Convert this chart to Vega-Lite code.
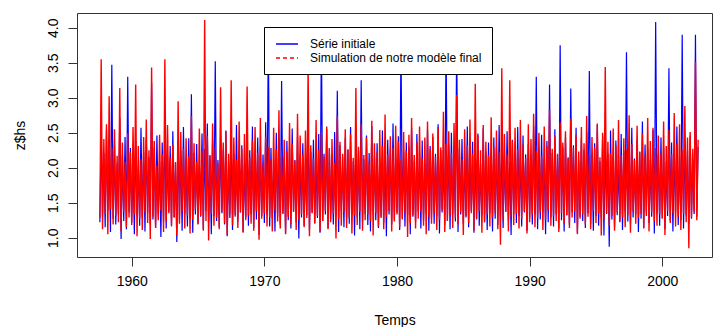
{
"$schema":"https://vega.github.io/schema/vega-lite/v6.json",
"width":635,"height":244,
"autosize":{"type":"none"},
"padding":{"left":77,"top":13,"right":1,"bottom":70},
"config":{"font":"Liberation Sans","view":{"stroke":"#333333","strokeWidth":1},
"legend":{"orient":"none","legendX":187,"legendY":14,"title":null,"padding":10,"strokeColor":"#000000","fillColor":"#ffffff","labelFontSize":12,"labelColor":"#000000","labelLimit":400,"labelOffset":22,"symbolSize":144,"symbolType":"M-0.833,0H2.833","symbolStrokeWidth":1,"rowPadding":1}},
"data":{"values":[
{"t":1957.6,"a":1.22,"b":1.28},{"t":1957.7,"a":2.48,"b":3.55},{"t":1957.8,"a":1.30,"b":1.12},{"t":1957.9,"a":2.21,"b":2.41},
{"t":1958.0,"a":1.15,"b":1.34},{"t":1958.1,"a":2.55,"b":2.62},{"t":1958.2,"a":1.38,"b":1.05},{"t":1958.3,"a":2.12,"b":3.02},{"t":1958.4,"a":1.08,"b":1.41},{"t":1958.5,"a":3.47,"b":2.28},{"t":1958.6,"a":1.27,"b":1.19},{"t":1958.7,"a":2.33,"b":2.55},{"t":1958.8,"a":1.19,"b":1.31},{"t":1958.9,"a":2.06,"b":2.17},
{"t":1959.0,"a":1.33,"b":1.22},{"t":1959.1,"a":2.71,"b":3.14},{"t":1959.2,"a":0.98,"b":1.09},{"t":1959.3,"a":2.18,"b":2.36},{"t":1959.4,"a":1.24,"b":1.37},{"t":1959.5,"a":2.44,"b":2.08},{"t":1959.6,"a":1.12,"b":1.15},{"t":1959.7,"a":3.30,"b":2.49},{"t":1959.8,"a":1.36,"b":1.29},{"t":1959.9,"a":2.28,"b":2.22},
{"t":1960.0,"a":1.21,"b":1.18},{"t":1960.1,"a":2.12,"b":2.58},{"t":1960.2,"a":1.05,"b":1.33},{"t":1960.3,"a":2.38,"b":3.19},{"t":1960.4,"a":1.31,"b":1.02},{"t":1960.5,"a":2.02,"b":2.31},{"t":1960.6,"a":1.17,"b":1.27},{"t":1960.7,"a":2.57,"b":2.12},{"t":1960.8,"a":1.28,"b":1.11},{"t":1960.9,"a":2.23,"b":2.44},
{"t":1961.0,"a":1.09,"b":1.36},{"t":1961.1,"a":2.41,"b":2.69},{"t":1961.2,"a":1.35,"b":1.21},{"t":1961.3,"a":2.15,"b":2.25},{"t":1961.4,"a":1.19,"b":0.98},{"t":1961.5,"a":3.21,"b":3.43},{"t":1961.6,"a":1.26,"b":1.30},{"t":1961.7,"a":2.29,"b":2.38},{"t":1961.8,"a":1.14,"b":1.14},{"t":1961.9,"a":2.46,"b":2.03},
{"t":1962.0,"a":1.32,"b":1.25},{"t":1962.1,"a":2.09,"b":2.47},{"t":1962.2,"a":1.01,"b":1.39},{"t":1962.3,"a":2.36,"b":2.19},{"t":1962.4,"a":1.23,"b":1.08},{"t":1962.5,"a":2.62,"b":3.55},{"t":1962.6,"a":1.13,"b":1.23},{"t":1962.7,"a":2.19,"b":2.61},{"t":1962.8,"a":1.37,"b":1.35},{"t":1962.9,"a":2.31,"b":2.14},
{"t":1963.0,"a":1.18,"b":1.16},{"t":1963.1,"a":2.52,"b":2.33},{"t":1963.2,"a":1.29,"b":1.29},{"t":1963.3,"a":2.07,"b":2.08},{"t":1963.4,"a":0.94,"b":1.03},{"t":1963.5,"a":2.39,"b":2.95},{"t":1963.6,"a":1.25,"b":1.20},{"t":1963.7,"a":2.24,"b":2.51},{"t":1963.8,"a":1.10,"b":1.38},{"t":1963.9,"a":2.58,"b":2.27},
{"t":1964.0,"a":1.34,"b":1.13},{"t":1964.1,"a":2.13,"b":2.42},{"t":1964.2,"a":1.16,"b":1.32},{"t":1964.3,"a":2.42,"b":2.16},{"t":1964.4,"a":1.27,"b":1.06},{"t":1964.5,"a":3.05,"b":2.74},{"t":1964.6,"a":1.07,"b":1.26},{"t":1964.7,"a":2.21,"b":2.35},{"t":1964.8,"a":1.33,"b":1.40},{"t":1964.9,"a":2.34,"b":2.09},
{"t":1965.0,"a":1.20,"b":1.19},{"t":1965.1,"a":2.05,"b":2.56},{"t":1965.2,"a":1.30,"b":1.31},{"t":1965.3,"a":2.49,"b":2.24},{"t":1965.4,"a":1.12,"b":1.10},{"t":1965.5,"a":2.27,"b":4.11},{"t":1965.6,"a":1.38,"b":1.24},{"t":1965.7,"a":2.63,"b":2.45},{"t":1965.8,"a":1.22,"b":0.96},{"t":1965.9,"a":2.17,"b":2.18},
{"t":1966.0,"a":1.05,"b":1.34},{"t":1966.1,"a":2.40,"b":2.63},{"t":1966.2,"a":1.31,"b":1.17},{"t":1966.3,"a":3.52,"b":2.29},{"t":1966.4,"a":1.24,"b":1.28},{"t":1966.5,"a":2.11,"b":2.07},{"t":1966.6,"a":1.15,"b":1.12},{"t":1966.7,"a":2.45,"b":3.15},{"t":1966.8,"a":1.35,"b":1.37},{"t":1966.9,"a":2.26,"b":2.36},
{"t":1967.0,"a":1.19,"b":1.21},{"t":1967.1,"a":2.53,"b":2.52},{"t":1967.2,"a":1.02,"b":1.04},{"t":1967.3,"a":2.08,"b":2.20},{"t":1967.4,"a":1.28,"b":1.33},{"t":1967.5,"a":2.37,"b":3.25},{"t":1967.6,"a":1.11,"b":1.18},{"t":1967.7,"a":2.20,"b":2.43},{"t":1967.8,"a":1.32,"b":1.30},{"t":1967.9,"a":2.61,"b":2.11},
{"t":1968.0,"a":1.23,"b":1.14},{"t":1968.1,"a":2.16,"b":2.66},{"t":1968.2,"a":1.36,"b":1.36},{"t":1968.3,"a":2.32,"b":2.27},{"t":1968.4,"a":1.08,"b":1.07},{"t":1968.5,"a":2.04,"b":2.48},{"t":1968.6,"a":1.29,"b":1.25},{"t":1968.7,"a":2.47,"b":3.16},{"t":1968.8,"a":1.17,"b":1.32},{"t":1968.9,"a":2.25,"b":2.15},
{"t":1969.0,"a":1.34,"b":1.20},{"t":1969.1,"a":2.59,"b":2.39},{"t":1969.2,"a":1.14,"b":1.10},{"t":1969.3,"a":2.14,"b":2.58},{"t":1969.4,"a":1.26,"b":1.38},{"t":1969.5,"a":2.43,"b":2.21},{"t":1969.6,"a":1.04,"b":0.97},{"t":1969.7,"a":2.30,"b":2.71},{"t":1969.8,"a":1.31,"b":1.27},{"t":1969.9,"a":2.19,"b":2.05},
{"t":1970.0,"a":1.21,"b":1.35},{"t":1970.1,"a":2.65,"b":2.44},{"t":1970.2,"a":1.33,"b":1.16},{"t":1970.3,"a":3.90,"b":2.30},{"t":1970.4,"a":1.16,"b":1.29},{"t":1970.5,"a":2.28,"b":2.12},{"t":1970.6,"a":1.27,"b":1.09},{"t":1970.7,"a":2.10,"b":2.57},{"t":1970.8,"a":1.09,"b":1.39},{"t":1970.9,"a":2.50,"b":2.26},
{"t":1971.0,"a":1.30,"b":1.23},{"t":1971.1,"a":2.22,"b":2.82},{"t":1971.2,"a":1.18,"b":1.13},{"t":1971.3,"a":3.24,"b":2.17},{"t":1971.4,"a":1.35,"b":1.34},{"t":1971.5,"a":2.15,"b":2.40},{"t":1971.6,"a":1.06,"b":1.05},{"t":1971.7,"a":2.38,"b":2.23},{"t":1971.8,"a":1.25,"b":1.30},{"t":1971.9,"a":2.29,"b":2.64},
{"t":1972.0,"a":1.13,"b":1.19},{"t":1972.1,"a":2.56,"b":2.34},{"t":1972.2,"a":1.37,"b":1.37},{"t":1972.3,"a":2.11,"b":2.10},{"t":1972.4,"a":1.22,"b":1.11},{"t":1972.5,"a":2.44,"b":2.77},{"t":1972.6,"a":0.99,"b":1.26},{"t":1972.7,"a":2.18,"b":2.46},{"t":1972.8,"a":1.29,"b":1.33},{"t":1972.9,"a":2.35,"b":2.19},
{"t":1973.0,"a":1.17,"b":1.15},{"t":1973.1,"a":2.07,"b":2.53},{"t":1973.2,"a":1.32,"b":1.28},{"t":1973.3,"a":2.64,"b":3.45},{"t":1973.4,"a":1.10,"b":1.02},{"t":1973.5,"a":2.23,"b":2.32},{"t":1973.6,"a":1.36,"b":1.35},{"t":1973.7,"a":2.40,"b":2.13},{"t":1973.8,"a":1.21,"b":1.20},{"t":1973.9,"a":2.13,"b":2.68},
{"t":1974.0,"a":1.28,"b":1.31},{"t":1974.1,"a":2.48,"b":2.25},{"t":1974.2,"a":1.07,"b":1.08},{"t":1974.3,"a":3.90,"b":2.50},{"t":1974.4,"a":1.24,"b":1.24},{"t":1974.5,"a":2.20,"b":2.16},{"t":1974.6,"a":1.33,"b":1.38},{"t":1974.7,"a":2.55,"b":2.59},{"t":1974.8,"a":1.14,"b":1.12},{"t":1974.9,"a":2.27,"b":2.28},
{"t":1975.0,"a":1.26,"b":1.22},{"t":1975.1,"a":2.03,"b":2.41},{"t":1975.2,"a":1.19,"b":1.34},{"t":1975.3,"a":2.51,"b":2.07},{"t":1975.4,"a":1.31,"b":0.99},{"t":1975.5,"a":3.10,"b":2.73},{"t":1975.6,"a":1.08,"b":1.27},{"t":1975.7,"a":2.32,"b":2.37},{"t":1975.8,"a":1.38,"b":1.17},{"t":1975.9,"a":2.16,"b":2.20},
{"t":1976.0,"a":1.15,"b":1.36},{"t":1976.1,"a":2.42,"b":2.55},{"t":1976.2,"a":1.27,"b":1.14},{"t":1976.3,"a":2.26,"b":2.26},{"t":1976.4,"a":1.20,"b":1.29},{"t":1976.5,"a":2.58,"b":2.48},{"t":1976.6,"a":1.35,"b":1.06},{"t":1976.7,"a":2.09,"b":2.14},{"t":1976.8,"a":1.03,"b":1.32},{"t":1976.9,"a":2.37,"b":3.14},
{"t":1977.0,"a":1.29,"b":1.18},{"t":1977.1,"a":2.24,"b":2.30},{"t":1977.2,"a":1.12,"b":1.37},{"t":1977.3,"a":3.25,"b":2.62},{"t":1977.4,"a":1.23,"b":1.10},{"t":1977.5,"a":2.12,"b":2.18},{"t":1977.6,"a":1.34,"b":1.25},{"t":1977.7,"a":2.46,"b":2.44},{"t":1977.8,"a":1.18,"b":1.33},{"t":1977.9,"a":2.21,"b":2.09},
{"t":1978.0,"a":1.09,"b":1.24},{"t":1978.1,"a":2.60,"b":2.67},{"t":1978.2,"a":1.37,"b":1.03},{"t":1978.3,"a":2.17,"b":2.35},{"t":1978.4,"a":1.25,"b":1.35},{"t":1978.5,"a":2.35,"b":2.22},{"t":1978.6,"a":1.14,"b":1.16},{"t":1978.7,"a":2.05,"b":2.54},{"t":1978.8,"a":1.30,"b":1.28},{"t":1978.9,"a":2.53,"b":2.31},
{"t":1979.0,"a":1.21,"b":1.12},{"t":1979.1,"a":2.19,"b":2.76},{"t":1979.2,"a":1.02,"b":1.30},{"t":1979.3,"a":2.40,"b":2.19},{"t":1979.4,"a":1.33,"b":1.38},{"t":1979.5,"a":2.27,"b":2.45},{"t":1979.6,"a":1.19,"b":1.09},{"t":1979.7,"a":2.63,"b":2.28},{"t":1979.8,"a":1.26,"b":1.23},{"t":1979.9,"a":2.14,"b":2.60},
{"t":1980.0,"a":1.36,"b":1.33},{"t":1980.1,"a":2.45,"b":2.38},{"t":1980.2,"a":1.11,"b":1.15},{"t":1980.3,"a":3.80,"b":2.11},{"t":1980.4,"a":1.28,"b":1.26},{"t":1980.5,"a":2.22,"b":2.51},{"t":1980.6,"a":1.16,"b":1.36},{"t":1980.7,"a":2.36,"b":2.24},{"t":1980.8,"a":1.32,"b":1.01},{"t":1980.9,"a":2.30,"b":2.47},
{"t":1981.0,"a":1.05,"b":1.21},{"t":1981.1,"a":2.57,"b":2.71},{"t":1981.2,"a":1.30,"b":1.32},{"t":1981.3,"a":2.10,"b":2.18},{"t":1981.4,"a":1.22,"b":1.13},{"t":1981.5,"a":2.48,"b":2.36},{"t":1981.6,"a":1.37,"b":1.27},{"t":1981.7,"a":2.18,"b":2.59},{"t":1981.8,"a":1.13,"b":1.37},{"t":1981.9,"a":2.39,"b":2.13},
{"t":1982.0,"a":1.24,"b":1.17},{"t":1982.1,"a":2.06,"b":2.43},{"t":1982.2,"a":1.35,"b":1.05},{"t":1982.3,"a":2.54,"b":2.66},{"t":1982.4,"a":1.10,"b":1.30},{"t":1982.5,"a":2.31,"b":2.27},{"t":1982.6,"a":1.27,"b":1.20},{"t":1982.7,"a":2.44,"b":2.49},{"t":1982.8,"a":1.20,"b":1.34},{"t":1982.9,"a":2.20,"b":2.16},
{"t":1983.0,"a":1.31,"b":1.11},{"t":1983.1,"a":2.62,"b":2.58},{"t":1983.2,"a":1.06,"b":1.26},{"t":1983.3,"a":2.25,"b":2.29},{"t":1983.4,"a":1.36,"b":1.39},{"t":1983.5,"a":2.08,"b":2.80},{"t":1983.6,"a":1.18,"b":1.08},{"t":1983.7,"a":3.80,"b":2.34},{"t":1983.8,"a":1.25,"b":1.24},{"t":1983.9,"a":2.33,"b":2.52},
{"t":1984.0,"a":1.12,"b":1.32},{"t":1984.1,"a":2.50,"b":2.21},{"t":1984.2,"a":1.34,"b":1.14},{"t":1984.3,"a":2.16,"b":2.64},{"t":1984.4,"a":1.23,"b":1.28},{"t":1984.5,"a":3.80,"b":3.04},{"t":1984.6,"a":1.08,"b":1.19},{"t":1984.7,"a":2.29,"b":2.40},{"t":1984.8,"a":1.33,"b":1.36},{"t":1984.9,"a":2.41,"b":2.12},
{"t":1985.0,"a":1.20,"b":1.04},{"t":1985.1,"a":2.13,"b":2.55},{"t":1985.2,"a":1.29,"b":1.31},{"t":1985.3,"a":2.59,"b":2.32},{"t":1985.4,"a":1.15,"b":1.21},{"t":1985.5,"a":2.24,"b":2.69},{"t":1985.6,"a":1.38,"b":1.35},{"t":1985.7,"a":2.37,"b":2.20},{"t":1985.8,"a":1.07,"b":1.10},{"t":1985.9,"a":2.18,"b":3.20},
{"t":1986.0,"a":1.26,"b":1.27},{"t":1986.1,"a":2.49,"b":2.46},{"t":1986.2,"a":1.17,"b":1.38},{"t":1986.3,"a":2.05,"b":2.25},{"t":1986.4,"a":1.32,"b":1.07},{"t":1986.5,"a":2.56,"b":2.61},{"t":1986.6,"a":1.22,"b":1.22},{"t":1986.7,"a":2.23,"b":2.37},{"t":1986.8,"a":1.11,"b":1.33},{"t":1986.9,"a":2.36,"b":2.18},
{"t":1987.0,"a":1.35,"b":1.16},{"t":1987.1,"a":2.11,"b":2.72},{"t":1987.2,"a":1.09,"b":1.29},{"t":1987.3,"a":2.43,"b":2.30},{"t":1987.4,"a":1.27,"b":1.36},{"t":1987.5,"a":2.30,"b":2.53},{"t":1987.6,"a":1.18,"b":1.12},{"t":1987.7,"a":2.61,"b":2.22},{"t":1987.8,"a":1.30,"b":0.90},{"t":1987.9,"a":2.27,"b":3.42},
{"t":1988.0,"a":1.14,"b":1.25},{"t":1988.1,"a":2.16,"b":2.48},{"t":1988.2,"a":1.37,"b":1.37},{"t":1988.3,"a":2.52,"b":2.19},{"t":1988.4,"a":1.24,"b":1.09},{"t":1988.5,"a":2.09,"b":3.25},{"t":1988.6,"a":1.04,"b":1.30},{"t":1988.7,"a":2.40,"b":2.39},{"t":1988.8,"a":1.33,"b":1.18},{"t":1988.9,"a":2.22,"b":2.57},
{"t":1989.0,"a":1.21,"b":1.34},{"t":1989.1,"a":2.58,"b":2.26},{"t":1989.2,"a":1.31,"b":1.13},{"t":1989.3,"a":2.14,"b":2.68},{"t":1989.4,"a":1.16,"b":1.27},{"t":1989.5,"a":2.46,"b":2.33},{"t":1989.6,"a":1.36,"b":1.38},{"t":1989.7,"a":2.19,"b":2.14},{"t":1989.8,"a":1.10,"b":1.06},{"t":1989.9,"a":2.34,"b":2.62},
{"t":1990.0,"a":1.28,"b":1.22},{"t":1990.1,"a":2.07,"b":2.41},{"t":1990.2,"a":1.19,"b":1.33},{"t":1990.3,"a":2.60,"b":2.77},{"t":1990.4,"a":1.33,"b":1.15},{"t":1990.5,"a":3.30,"b":2.24},{"t":1990.6,"a":1.12,"b":1.28},{"t":1990.7,"a":2.25,"b":2.50},{"t":1990.8,"a":1.26,"b":1.36},{"t":1990.9,"a":2.47,"b":2.17},
{"t":1991.0,"a":1.37,"b":1.11},{"t":1991.1,"a":2.12,"b":2.59},{"t":1991.2,"a":1.05,"b":1.26},{"t":1991.3,"a":2.38,"b":2.31},{"t":1991.4,"a":1.22,"b":1.39},{"t":1991.5,"a":3.19,"b":2.83},{"t":1991.6,"a":1.29,"b":1.17},{"t":1991.7,"a":2.21,"b":2.27},{"t":1991.8,"a":1.16,"b":1.31},{"t":1991.9,"a":2.55,"b":2.45},
{"t":1992.0,"a":1.34,"b":1.24},{"t":1992.1,"a":2.18,"b":2.20},{"t":1992.2,"a":1.13,"b":1.08},{"t":1992.3,"a":3.75,"b":2.65},{"t":1992.4,"a":1.25,"b":1.35},{"t":1992.5,"a":2.29,"b":2.36},{"t":1992.6,"a":1.09,"b":1.20},{"t":1992.7,"a":2.44,"b":2.52},{"t":1992.8,"a":1.32,"b":1.32},{"t":1992.9,"a":2.15,"b":2.13},
{"t":1993.0,"a":1.18,"b":1.14},{"t":1993.1,"a":3.13,"b":2.70},{"t":1993.2,"a":1.36,"b":1.29},{"t":1993.3,"a":2.32,"b":2.28},{"t":1993.4,"a":1.21,"b":1.37},{"t":1993.5,"a":2.57,"b":2.47},{"t":1993.6,"a":1.07,"b":1.05},{"t":1993.7,"a":2.10,"b":2.23},{"t":1993.8,"a":1.30,"b":1.27},{"t":1993.9,"a":2.42,"b":2.58},
{"t":1994.0,"a":1.24,"b":1.33},{"t":1994.1,"a":2.26,"b":2.35},{"t":1994.2,"a":1.14,"b":1.19},{"t":1994.3,"a":2.51,"b":2.74},{"t":1994.4,"a":1.35,"b":1.30},{"t":1994.5,"a":3.38,"b":2.19},{"t":1994.6,"a":1.20,"b":1.12},{"t":1994.7,"a":2.19,"b":2.44},{"t":1994.8,"a":1.10,"b":1.38},{"t":1994.9,"a":2.35,"b":2.29},
{"t":1995.0,"a":1.31,"b":1.21},{"t":1995.1,"a":2.61,"b":2.63},{"t":1995.2,"a":1.17,"b":1.34},{"t":1995.3,"a":2.09,"b":2.15},{"t":1995.4,"a":1.28,"b":1.03},{"t":1995.5,"a":2.45,"b":2.50},{"t":1995.6,"a":1.03,"b":1.26},{"t":1995.7,"a":2.28,"b":3.44},{"t":1995.8,"a":1.34,"b":1.35},{"t":1995.9,"a":2.20,"b":2.37},
{"t":1996.0,"a":0.87,"b":1.17},{"t":1996.1,"a":2.53,"b":2.21},{"t":1996.2,"a":1.26,"b":1.31},{"t":1996.3,"a":2.17,"b":2.56},{"t":1996.4,"a":1.15,"b":1.10},{"t":1996.5,"a":2.39,"b":2.32},{"t":1996.6,"a":1.32,"b":1.36},{"t":1996.7,"a":2.06,"b":2.68},{"t":1996.8,"a":1.22,"b":1.23},{"t":1996.9,"a":2.48,"b":2.18},
{"t":1997.0,"a":1.11,"b":1.29},{"t":1997.1,"a":2.24,"b":2.42},{"t":1997.2,"a":1.37,"b":1.15},{"t":1997.3,"a":3.65,"b":2.26},{"t":1997.4,"a":1.23,"b":1.32},{"t":1997.5,"a":2.31,"b":2.75},{"t":1997.6,"a":1.19,"b":1.07},{"t":1997.7,"a":2.57,"b":2.34},{"t":1997.8,"a":1.29,"b":1.37},{"t":1997.9,"a":2.13,"b":2.11},
{"t":1998.0,"a":1.33,"b":1.20},{"t":1998.1,"a":2.40,"b":2.60},{"t":1998.2,"a":1.08,"b":1.28},{"t":1998.3,"a":2.22,"b":2.23},{"t":1998.4,"a":1.27,"b":1.34},{"t":1998.5,"a":2.66,"b":2.49},{"t":1998.6,"a":1.14,"b":1.13},{"t":1998.7,"a":2.33,"b":2.17},{"t":1998.8,"a":1.36,"b":1.31},{"t":1998.9,"a":2.27,"b":2.71},
{"t":1999.0,"a":1.21,"b":1.09},{"t":1999.1,"a":2.11,"b":2.38},{"t":1999.2,"a":1.30,"b":1.36},{"t":1999.3,"a":2.54,"b":2.57},{"t":1999.4,"a":1.06,"b":1.24},{"t":1999.5,"a":4.08,"b":2.28},{"t":1999.6,"a":1.35,"b":1.17},{"t":1999.7,"a":2.19,"b":2.46},{"t":1999.8,"a":1.17,"b":1.33},{"t":1999.9,"a":2.43,"b":2.20},
{"t":2000.0,"a":1.28,"b":1.27},{"t":2000.1,"a":2.28,"b":2.66},{"t":2000.2,"a":1.12,"b":1.04},{"t":2000.3,"a":2.08,"b":2.31},{"t":2000.4,"a":1.31,"b":1.38},{"t":2000.5,"a":3.42,"b":2.54},{"t":2000.6,"a":1.24,"b":1.21},{"t":2000.7,"a":2.36,"b":2.19},{"t":2000.8,"a":1.09,"b":1.35},{"t":2000.9,"a":2.21,"b":2.78},
{"t":2001.0,"a":1.36,"b":1.16},{"t":2001.1,"a":2.59,"b":2.35},{"t":2001.2,"a":1.18,"b":1.30},{"t":2001.3,"a":2.16,"b":2.62},{"t":2001.4,"a":1.25,"b":1.11},{"t":2001.5,"a":3.90,"b":2.25},{"t":2001.6,"a":1.13,"b":1.34},{"t":2001.7,"a":2.34,"b":2.88},{"t":2001.8,"a":1.32,"b":1.22},{"t":2001.9,"a":2.25,"b":2.43},
{"t":2002.0,"a":1.20,"b":0.85},{"t":2002.1,"a":2.46,"b":2.51},{"t":2002.2,"a":1.27,"b":1.29},{"t":2002.3,"a":2.12,"b":2.27},{"t":2002.4,"a":1.34,"b":1.37},{"t":2002.5,"a":3.90,"b":3.51},{"t":2002.6,"a":1.30,"b":1.25},{"t":2002.7,"a":2.30,"b":2.40}
]},
"layer":[
{"mark":{"type":"line","strokeWidth":1.2,"clip":true},
"encoding":{
"x":{"field":"t","type":"quantitative","scale":{"domain":[1955.876,2003.747],"nice":false,"zero":false},
"axis":{"values":[1960,1970,1980,1990,2000],"format":"d","title":"Temps","grid":false,"domain":false,"tickSize":9,"tickColor":"#333333","labelFontSize":14,"labelColor":"#000000","labelPadding":8,"labelFlush":false,"titleFontSize":14,"titleFontWeight":"normal","titleColor":"#000000","titleY":67,"titleBaseline":"alphabetic"}},
"y":{"field":"a","type":"quantitative","scale":{"domain":[0.724,4.21],"nice":false,"zero":false},
"axis":{"values":[1,1.5,2,2.5,3,3.5,4],"format":".1f","title":"z$hs","grid":false,"domain":false,"tickSize":9,"tickColor":"#333333","labelFontSize":14,"labelColor":"#000000","labelAngle":270,"labelAlign":"center","labelBaseline":"bottom","labelPadding":8,"labelFlush":false,"titleFontSize":14,"titleFontWeight":"normal","titleColor":"#000000","titleAngle":270,"titleAlign":"center","titleBaseline":"bottom","titleX":-50,"titleY":122}},
"color":{"datum":"Série initiale","type":"nominal","scale":{"domain":["Série initiale","Simulation de notre modèle final"],"range":["#0000FF","#FF0000"]},
"legend":{"encode":{"symbols":{"update":{"stroke":{"signal":"datum.value == 'Série initiale' ? '#0000FF' : '#FF0000'"},"fill":{"value":"transparent"},"strokeOpacity":{"value":1},"opacity":{"value":1},"strokeWidth":{"value":1.3},"strokeDash":{"signal":"datum.value == 'Série initiale' ? [1,0] : [4,3]"}}}}}}
}},
{"mark":{"type":"line","strokeWidth":1.4,"clip":true},
"encoding":{
"x":{"field":"t","type":"quantitative"},
"y":{"field":"b","type":"quantitative","title":"z$hs"},
"color":{"datum":"Simulation de notre modèle final","type":"nominal"}
}}
]
}
